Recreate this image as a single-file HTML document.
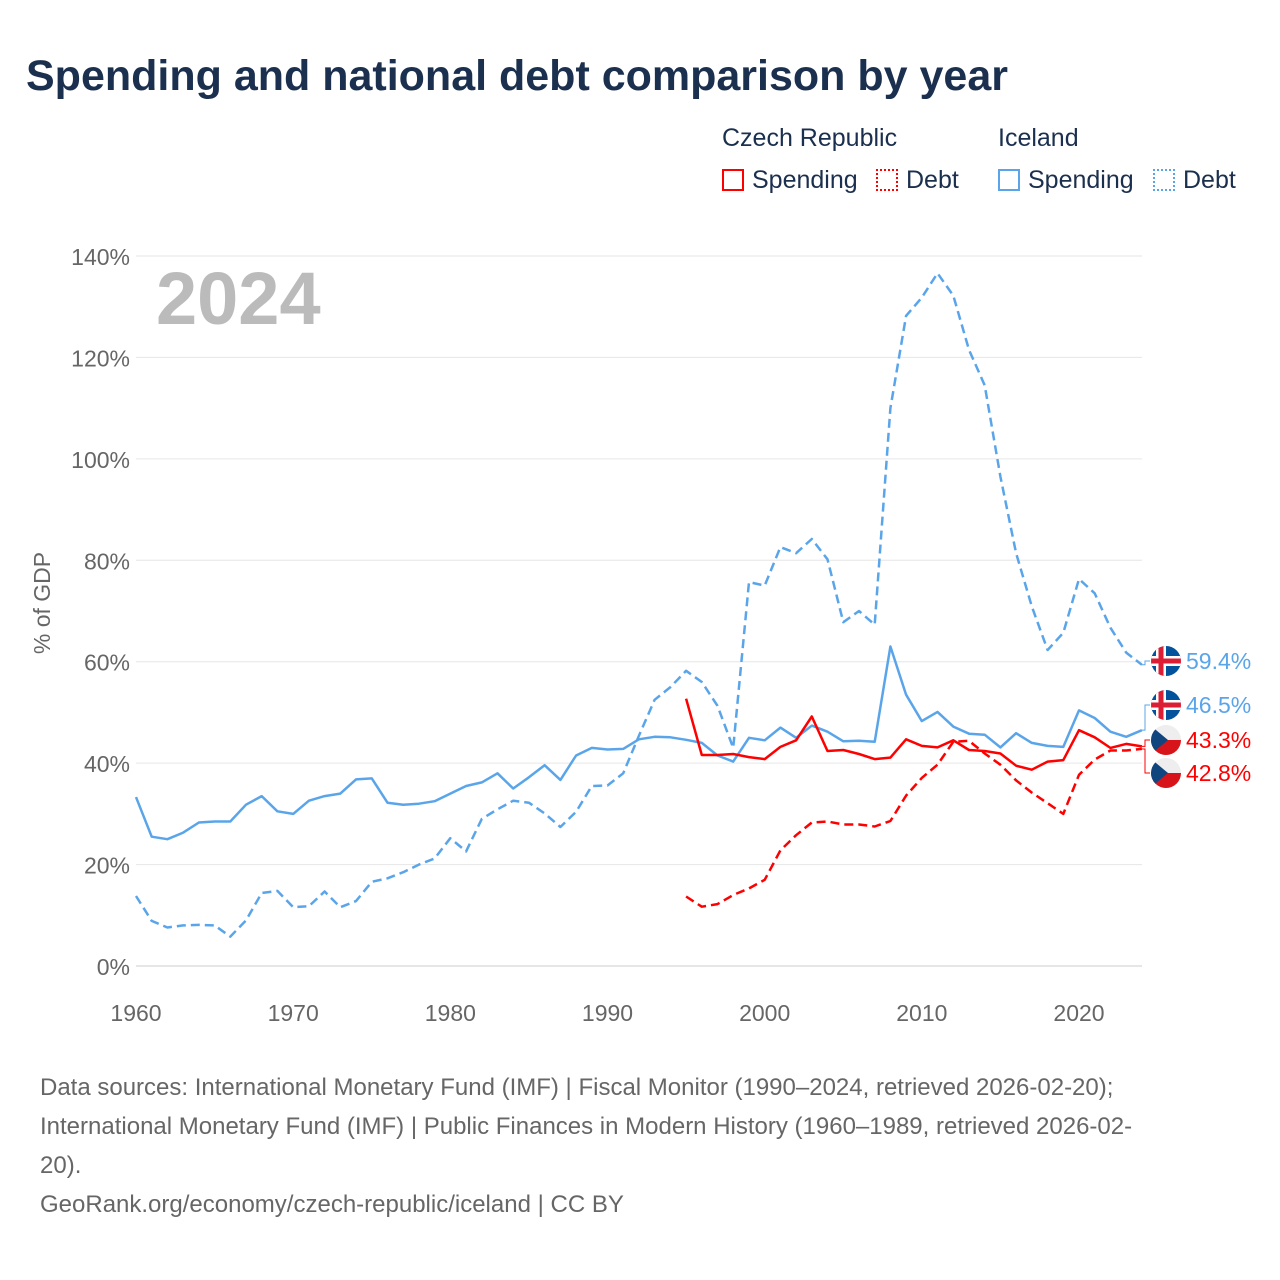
<!DOCTYPE html>
<html><head><meta charset="utf-8"><style>
body{margin:0;background:#fff;font-family:"Liberation Sans",sans-serif}
#wrap{position:relative;width:1280px;height:1280px;overflow:hidden}
.t{position:absolute;white-space:nowrap}
</style></head><body>
<div id="wrap">
<div class="t" style="left:26px;top:52px;font-size:43px;font-weight:bold;color:#1b2f4e">Spending and national debt comparison by year</div>
<div class="t" style="left:722px;top:124px;font-size:25px;color:#1b2f4e">Czech Republic</div>
<div class="t" style="left:998px;top:124px;font-size:25px;color:#1b2f4e">Iceland</div>
<div class="t" style="left:722px;top:166px;font-size:25px;color:#1b2f4e"><span style="display:inline-block;width:22px;height:22px;border:2px solid #f00;box-sizing:border-box;vertical-align:-3px;margin-right:8px"></span>Spending</div>
<div class="t" style="left:876px;top:166px;font-size:25px;color:#1b2f4e"><span style="display:inline-block;width:22px;height:22px;border:2px dotted #f00;box-sizing:border-box;vertical-align:-3px;margin-right:8px"></span>Debt</div>
<div class="t" style="left:998px;top:166px;font-size:25px;color:#1b2f4e"><span style="display:inline-block;width:22px;height:22px;border:2px solid #5aa5ea;box-sizing:border-box;vertical-align:-3px;margin-right:8px"></span>Spending</div>
<div class="t" style="left:1153px;top:166px;font-size:25px;color:#1b2f4e"><span style="display:inline-block;width:22px;height:22px;border:2px dotted #5aa5ea;box-sizing:border-box;vertical-align:-3px;margin-right:8px"></span>Debt</div>
<svg id="chart" width="1280" height="1280" style="position:absolute;left:0;top:0"></svg>
<div class="t" style="left:40px;top:1068px;font-size:24px;line-height:39px;color:#666">Data sources: International Monetary Fund (IMF) | Fiscal Monitor (1990–2024, retrieved 2026-02-20);<br>International Monetary Fund (IMF) | Public Finances in Modern History (1960–1989, retrieved 2026-02-<br>20).<br>GeoRank.org/economy/czech-republic/iceland | CC BY</div>
</div>
<script>
const yTicks=[0,20,40,60,80,100,120,140];
const xTicks=[1960,1970,1980,1990,2000,2010,2020];
const isSpend=[33.3,25.5,25,26.3,28.3,28.5,28.5,31.8,33.5,30.5,30,32.6,33.5,34,36.8,37,32.2,31.8,32,32.5,34,35.5,36.2,38,35,37.2,39.6,36.7,41.5,43,42.7,42.8,44.7,45.2,45.1,44.6,44,41.5,40.3,45,44.5,47,45,47.4,46.2,44.3,44.4,44.2,63,53.5,48.3,50.1,47.2,45.8,45.6,43.1,45.9,44,43.4,43.2,50.4,48.9,46.2,45.2,46.5];
const isDebt=[13.8,8.9,7.6,8,8.1,8,5.8,9,14.4,14.8,11.6,11.8,14.7,11.6,12.8,16.6,17.3,18.5,20,21.2,25.2,22.6,29,30.9,32.6,32.2,30.1,27.4,30.4,35.5,35.6,38,45.4,52.5,55,58.2,56,51.3,43,75.7,75,82.6,81.4,84.2,80.2,67.8,70,67.3,110,128.2,131.8,136.6,132.2,121.5,114.5,96.5,81.4,70.9,62.3,65.7,76.3,73.5,66.7,61.8,59.4];
const czSpend=[52.7,41.6,41.6,41.8,41.2,40.8,43.2,44.5,49.2,42.4,42.6,41.8,40.8,41.1,44.7,43.4,43.1,44.5,42.6,42.4,41.9,39.5,38.7,40.3,40.6,46.5,45.1,43,43.8,43.3];
const czDebt=[13.7,11.7,12.2,14,15.3,17,22.8,25.8,28.3,28.5,27.9,27.9,27.5,28.6,33.6,37.1,39.7,44.2,44.4,41.9,39.7,36.6,34.2,32.1,30,37.7,40.7,42.5,42.5,42.8];
const svg=document.getElementById('chart');const NS='http://www.w3.org/2000/svg';
const X=y=>136+(y-1960)*(943/60);const Y=v=>966-v*(710/140);
function mk(t,a,p){const e=document.createElementNS(NS,t);for(const k in a)e.setAttribute(k,a[k]);(p||svg).appendChild(e);return e;}
yTicks.forEach(v=>{const l=mk('line',{x1:136,x2:1142,y1:Y(v),y2:Y(v),stroke:v?'#e6e6e6':'#ccc','stroke-width':1});


const t=mk('text',{x:130,y:Y(v)+9,'text-anchor':'end','font-size':23,fill:'#666','font-family':'Liberation Sans'});t.textContent=v+'%';

});
xTicks.forEach(v=>{const t=mk('text',{x:X(v),y:1021,'text-anchor':'middle','font-size':23,fill:'#666','font-family':'Liberation Sans'});t.textContent=v;

});
const yt=mk('text',{transform:'translate(50,603) rotate(-90)','text-anchor':'middle','font-size':23,fill:'#666','font-family':'Liberation Sans'});yt.textContent='% of GDP';


const yr=mk('text',{x:156,y:324,'font-size':74,'font-weight':'bold',fill:'#bbb','font-family':'Liberation Sans'});yr.textContent='2024';


function line(arr,start,col,dash,name){const pts=arr.map((v,i)=>X(start+i).toFixed(1)+','+Y(v).toFixed(1)).join(' ');
const p=mk('polyline',{points:pts,fill:'none',stroke:col,'stroke-width':2.5,'stroke-dasharray':dash||'none','stroke-linejoin':'round'});

}
line(isSpend,1960,'#5aa5ea','','iceland-spending-line');
line(isDebt,1960,'#5aa5ea','9 5','iceland-debt-line');
line(czSpend,1995,'#f00','','czech-spending-line');
line(czDebt,1995,'#f00','9 5','czech-debt-line');
// end labels
function flag(cy,ice){const g=mk('g',{});const id='c'+Math.round(cy);const cp=mk('clipPath',{id:id},g);mk('circle',{cx:1166,cy:cy,r:15},cp);
const f=mk('g',{'clip-path':'url(#'+id+')'},g);
if(ice){mk('rect',{x:1150,y:cy-15,width:32,height:30,fill:'#02529c'},f);mk('rect',{x:1150,y:cy-5,width:32,height:10,fill:'#fff'},f);mk('rect',{x:1156,y:cy-15,width:10,height:30,fill:'#fff'},f);mk('rect',{x:1150,y:cy-2.5,width:32,height:5,fill:'#dc1e35'},f);mk('rect',{x:1158.5,y:cy-15,width:5,height:30,fill:'#dc1e35'},f);}
else{mk('rect',{x:1150,y:cy-15,width:32,height:15,fill:'#eee'},f);mk('rect',{x:1150,y:cy,width:32,height:15,fill:'#d7141a'},f);mk('polygon',{points:`1150,${cy-15} 1168,${cy} 1150,${cy+15}`,fill:'#11457e'},f);}

}
const ends=[[isDebt[64],661,true,'#5aa5ea'],[isSpend[64],705,true,'#5aa5ea'],[czSpend[29],740,false,'#f00'],[czDebt[29],773,false,'#f00']];
ends.forEach(e=>{const yv=Y(e[0]);if(Math.abs(yv-e[1])>3){const p=mk('polyline',{points:`1142,${yv} 1145,${yv} 1145,${e[1]} 1150,${e[1]}`,fill:'none',stroke:e[3],'stroke-width':1});
}
flag(e[1],e[2]);const t=mk('text',{x:1186,y:e[1]+8,'font-size':23,fill:e[3],'font-family':'Liberation Sans'});t.textContent=e[0].toFixed(1)+'%';

});
</script>
</body></html>
